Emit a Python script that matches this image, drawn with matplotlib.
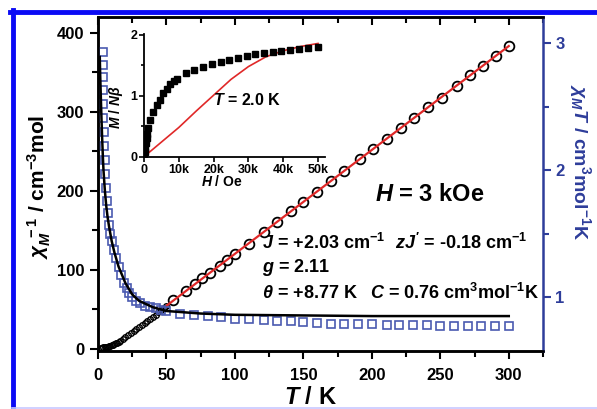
import matplotlib
matplotlib.use('Agg')
import matplotlib.pyplot as plt
from matplotlib.lines import Line2D
from matplotlib.ticker import MultipleLocator, FuncFormatter

plt.rcParams['font.family'] = ['Liberation Sans', 'DejaVu Sans']
plt.rcParams['font.weight'] = 'bold'
plt.rcParams['mathtext.fontset'] = 'custom'
plt.rcParams['mathtext.rm'] = 'Liberation Sans:bold'
plt.rcParams['mathtext.it'] = 'Liberation Sans:italic:bold'
plt.rcParams['mathtext.bf'] = 'Liberation Sans:bold'

# chi_M^-1 vs T (black circles), low-T dense part and high-T part
t_low = [2, 3, 4, 5, 6, 7, 8, 9, 10, 11, 12, 13, 14, 15, 16, 18, 20, 22, 24, 26,
         28, 30, 32, 34, 36, 38, 40, 42, 44, 46, 48, 50]
chi_inv_low = [1.0, 1.2, 1.5, 1.8, 2.1, 2.5, 3.0, 3.5, 4.1, 4.8, 5.6, 6.5, 7.4, 8.4,
               9.5, 11.8, 14.3, 16.9, 19.5, 22.1, 24.8, 27.4, 30.0, 32.7, 35.3, 37.9,
               40.6, 43.2, 45.8, 48.5, 51.1, 53.7]
t_high = [55, 64, 71, 76, 82, 89, 94, 100, 110, 121, 131, 141, 150, 160, 170, 180,
          191, 201, 211, 221, 231, 241, 251, 262, 272, 281, 291, 300]
chi_inv_high = [61, 73, 82, 89, 96, 105, 112, 120, 133, 148, 161, 174, 186, 199, 212,
                225, 240, 253, 266, 279, 292, 306, 318, 333, 346, 358, 371, 383]
# Curie-Weiss fit (red)
t_cw = [50, 300]
chi_inv_cw = [54.3, 383.2]

# chi_M T vs T (blue squares) and fit (black line)
t_sq = [3.3, 3.4, 3.5, 3.6, 3.8, 4.0, 4.2, 4.5, 4.8, 5.2, 5.7, 6.3, 7.0, 8.0, 9.0,
        10, 11.5, 13, 15, 17, 19, 21, 23, 25, 28, 31, 34, 38, 42, 46, 50, 60, 70,
        80, 90, 100, 110, 121, 131, 141, 150, 160, 170, 180, 190, 200, 211, 220,
        230, 240, 250, 260, 270, 280, 290, 300]
chit_sq = [2.93, 2.83, 2.73, 2.63, 2.52, 2.41, 2.30, 2.19, 2.08, 1.97, 1.86, 1.76,
           1.66, 1.57, 1.50, 1.44, 1.37, 1.31, 1.24, 1.17, 1.11, 1.07, 1.03, 1.00,
           0.97, 0.95, 0.93, 0.92, 0.91, 0.90, 0.89, 0.87, 0.86, 0.85, 0.84, 0.83,
           0.825, 0.82, 0.815, 0.81, 0.80, 0.795, 0.79, 0.79, 0.785, 0.785, 0.78,
           0.78, 0.78, 0.78, 0.775, 0.775, 0.775, 0.775, 0.775, 0.775]
t_fit = [1.3, 1.6, 2, 2.5, 3, 3.5, 4, 5, 6, 7, 8, 10, 12, 15, 20, 25, 30, 40, 50, 75,
         100, 150, 200, 300]
chit_fit = [2.89, 2.75, 2.60, 2.42, 2.26, 2.12, 2.00, 1.84, 1.72, 1.63, 1.56, 1.44,
            1.35, 1.24, 1.11, 1.02, 0.97, 0.92, 0.89, 0.87, 0.86, 0.855, 0.85, 0.85]

# inset: M/Nbeta vs H at 2.0 K
h_sq = [0, 200, 400, 600, 800, 1000, 1250, 1700, 2700, 3700, 4600, 5600, 6500, 7500,
        8500, 9500, 12000, 14500, 17000, 19500, 22000, 24500, 27000, 29500, 32000,
        34500, 37000, 39500, 42000, 44500, 47000, 50000]
m_sq = [0.02, 0.08, 0.15, 0.22, 0.30, 0.37, 0.47, 0.60, 0.74, 0.85, 0.93, 1.04, 1.12,
        1.19, 1.25, 1.28, 1.37, 1.42, 1.48, 1.53, 1.56, 1.59, 1.62, 1.65, 1.68, 1.70,
        1.72, 1.74, 1.76, 1.77, 1.79, 1.80]
h_fit = [0, 5000, 10000, 15000, 20000, 25000, 30000, 35000, 40000, 45000, 50000]
m_fit = [0, 0.24, 0.48, 0.75, 1.01, 1.27, 1.48, 1.64, 1.74, 1.81, 1.86]

W, H = 597, 409
blue_sq = '#4a5ab0'
blue_ax = '#2e3d9a'

fig = plt.figure(figsize=(W / 100, H / 100), dpi=100)
ax = fig.add_axes([98 / W, 58 / H, 445 / W, 334 / H])
ax2 = ax.twinx()

ax.plot(t_low, chi_inv_low, 'o', mfc='none', mec='black', ms=4, mew=1.0, zorder=3)
ax.plot(t_high, chi_inv_high, 'o', mfc='none', mec='black', ms=7, mew=1.3, zorder=3)
ax.plot(t_cw, chi_inv_cw, '-', color='#e02828', lw=1.6, zorder=4)

ax2.plot(t_sq, chit_sq, 's', mfc='none', mec=blue_sq, ms=6, mew=1.2, zorder=2)
ax2.plot(t_fit, chit_fit, '-', color='black', lw=1.8, zorder=3)

ax.set_xlim(0, 325)
ax.set_ylim(-3, 420)
ax2.set_ylim(0.575, 3.205)

ax.xaxis.set_major_locator(MultipleLocator(50))
ax.xaxis.set_minor_locator(MultipleLocator(25))
ax.yaxis.set_major_locator(MultipleLocator(100))
ax.yaxis.set_minor_locator(MultipleLocator(50))
ax2.yaxis.set_major_locator(MultipleLocator(1))
ax2.yaxis.set_minor_locator(MultipleLocator(0.5))

ax.tick_params(axis='both', which='major', direction='out', length=6, width=1.5,
               labelsize=12, pad=4)
ax.tick_params(axis='both', which='minor', direction='out', length=4, width=1.5)
ax.tick_params(axis='x', which='major', pad=6)
ax2.tick_params(axis='y', which='major', direction='out', length=6, width=1.5,
                labelsize=12, colors=blue_ax, pad=3)
ax2.tick_params(axis='y', which='minor', direction='out', length=4, width=1.5,
                colors=blue_ax)
for sp in ['left', 'bottom', 'top']:
    ax.spines[sp].set_linewidth(1.8)
    ax2.spines[sp].set_linewidth(1.8)
ax.spines['right'].set_visible(False)
ax2.spines['right'].set_color(blue_ax)
ax2.spines['right'].set_linewidth(1.8)
ax.xaxis.set_tick_params(which='both', top=True, labeltop=False)
# top ticks point inward
for t in ax.xaxis.get_major_ticks() + ax.xaxis.get_minor_ticks():
    t.tick2line.set_marker(3)
for lab in ax.get_xticklabels() + ax.get_yticklabels() + ax2.get_yticklabels():
    lab.set_fontweight('bold')

fig.text(310 / W, 1 - 397 / H, '$T$ / K', fontsize=17, fontweight='bold',
         ha='center', va='center')
fig.text(39 / W, 1 - 187 / H, r'$\chi_M^{\ -1}$ / cm$^{-3}$mol', fontsize=15,
         fontweight='bold', rotation=90, ha='center', va='center')
fig.text(580 / W, 1 - 162 / H, r'$\chi_M T$ / cm$^3$mol$^{-1}$K', fontsize=14,
         fontweight='bold', rotation=-90, ha='center', va='center', color=blue_ax)

fig.text(375 / W, 1 - 195 / H, '$H$ = 3 kOe', fontsize=17, fontweight='bold',
         ha='left', va='center')
fig.text(262 / W, 1 - 243 / H, '$J$ = +2.03 cm$^{-1}$', fontsize=13,
         fontweight='bold', ha='left', va='center')
fig.text(395 / W, 1 - 243 / H, "$zJ'$ = -0.18 cm$^{-1}$", fontsize=13,
         fontweight='bold', ha='left', va='center')
fig.text(262 / W, 1 - 268 / H, '$g$ = 2.11', fontsize=13, fontweight='bold',
         ha='left', va='center')
fig.text(262 / W, 1 - 293 / H, r'$\theta$ = +8.77 K', fontsize=13,
         fontweight='bold', ha='left', va='center')
fig.text(370 / W, 1 - 293 / H, '$C$ = 0.76 cm$^3$mol$^{-1}$K', fontsize=13,
         fontweight='bold', ha='left', va='center')

# inset
axi = fig.add_axes([144 / W, 1 - 156.7 / H, 181 / W, 123 / H])
axi.set_facecolor('none')
axi.plot(h_fit, m_fit, '-', color='#e02828', lw=1.2)
axi.plot(h_sq, m_sq, 's', color='black', ms=3.8)
axi.set_xlim(0, 52000)
axi.set_ylim(0, 2.02)
axi.xaxis.set_major_locator(MultipleLocator(10000))
axi.yaxis.set_major_locator(MultipleLocator(1))
axi.yaxis.set_minor_locator(MultipleLocator(0.5))
axi.xaxis.set_major_formatter(FuncFormatter(
    lambda v, p: '0' if v == 0 else '%dk' % round(v / 1000)))
axi.tick_params(which='major', direction='out', length=3.5, width=1.2, labelsize=9,
                pad=1.5)
axi.tick_params(which='minor', direction='out', length=2.5, width=1.2)
for sp in ['top', 'right']:
    axi.spines[sp].set_visible(False)
for sp in ['left', 'bottom']:
    axi.spines[sp].set_linewidth(1.3)
for lab in axi.get_xticklabels() + axi.get_yticklabels():
    lab.set_fontweight('bold')
fig.text(222 / W, 1 - 182 / H, '$H$ / Oe', fontsize=10, fontweight='bold',
         ha='center', va='center')
fig.text(116 / W, 1 - 107 / H, r'$M$ / $N\beta$', fontsize=10, fontweight='bold',
         rotation=90, ha='center', va='center')
fig.text(213 / W, 1 - 100 / H, '$T$ = 2.0 K', fontsize=11.5, fontweight='bold',
         ha='left', va='center')

# blue frame around the figure
fig.add_artist(Line2D([10 / W, 1], [1 - 12 / H, 1 - 12 / H], color='#0a0af5',
                      lw=3.5, transform=fig.transFigure))
fig.add_artist(Line2D([12.5 / W, 12.5 / W], [0, 1 - 10 / H], color='#0a0af5',
                      lw=3.5, transform=fig.transFigure))
fig.add_artist(Line2D([12 / W, 1], [1.5 / H, 1.5 / H], color='#c8c8ff',
                      lw=1.2, transform=fig.transFigure))

fig.savefig('out.png', dpi=100)
